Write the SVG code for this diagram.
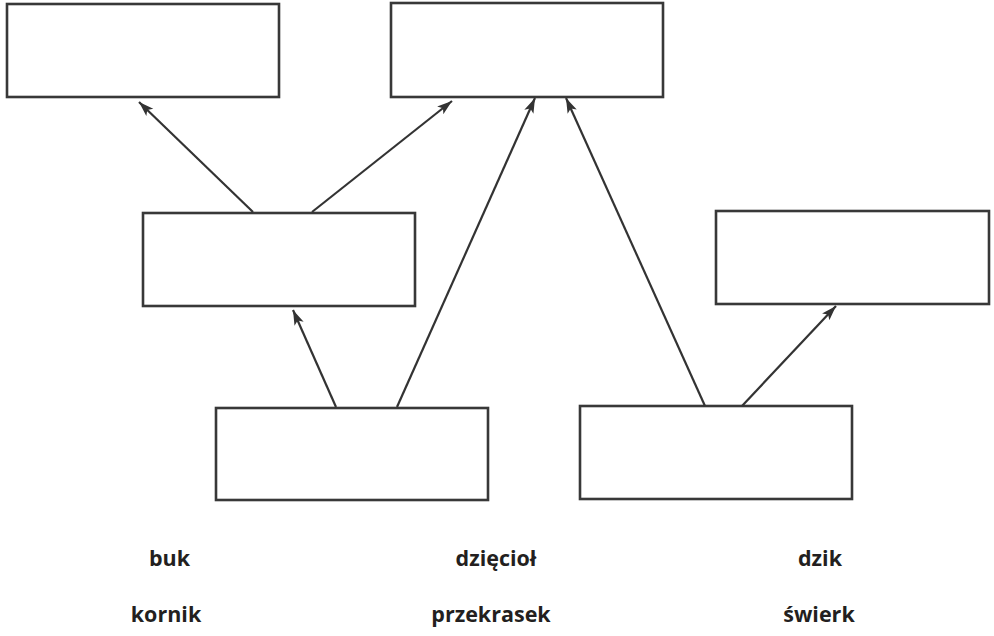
<svg xmlns="http://www.w3.org/2000/svg" width="994" height="636" viewBox="0 0 994 636">
<style>
.box{fill:#fff;stroke:#383838;stroke-width:2.6}
.edge{stroke:#333;stroke-width:2.2;fill:none;marker-end:url(#ah)}
.lbl{font-family:"Open Sans","Noto Sans","Liberation Sans",sans-serif;font-weight:700;font-size:21.5px;fill:#231f20;text-anchor:middle}
</style>
<defs>
<marker id="ah" markerUnits="userSpaceOnUse" markerWidth="16" markerHeight="12" refX="15" refY="6" orient="auto">
<path d="M0,1 L15,6 L0,11 L3.5,6 z" fill="#333"/>
</marker>
</defs>
<rect width="994" height="636" fill="#fff"/>
<g id="box-top-left"><rect class="box" x="7" y="4" width="272" height="93"/></g>
<g id="box-top-mid"><rect class="box" x="391" y="3" width="272" height="94"/></g>
<g id="box-mid-left"><rect class="box" x="143" y="213" width="272" height="93"/></g>
<g id="box-mid-right"><rect class="box" x="716" y="211" width="273" height="93"/></g>
<g id="box-bot-left"><rect class="box" x="216" y="408" width="272" height="92"/></g>
<g id="box-bot-right"><rect class="box" x="580" y="406" width="272" height="93"/></g>
<g id="connectors">
<line class="edge" x1="253" y1="212" x2="139" y2="102"/>
<line class="edge" x1="312" y1="212" x2="452" y2="101"/>
<line class="edge" x1="336" y1="407" x2="293" y2="310"/>
<line class="edge" x1="397" y1="407" x2="535" y2="98"/>
<line class="edge" x1="705" y1="406" x2="566" y2="98"/>
<line class="edge" x1="742" y1="406" x2="836" y2="306"/>
</g>
<g id="labels">
<text class="lbl" x="169.5" y="566">buk</text>
<text class="lbl" x="496" y="566">dzięcioł</text>
<text class="lbl" x="820" y="566">dzik</text>
<text class="lbl" x="166" y="622">kornik</text>
<text class="lbl" x="491" y="622">przekrasek</text>
<text class="lbl" x="819" y="622">świerk</text>
</g>
</svg>
